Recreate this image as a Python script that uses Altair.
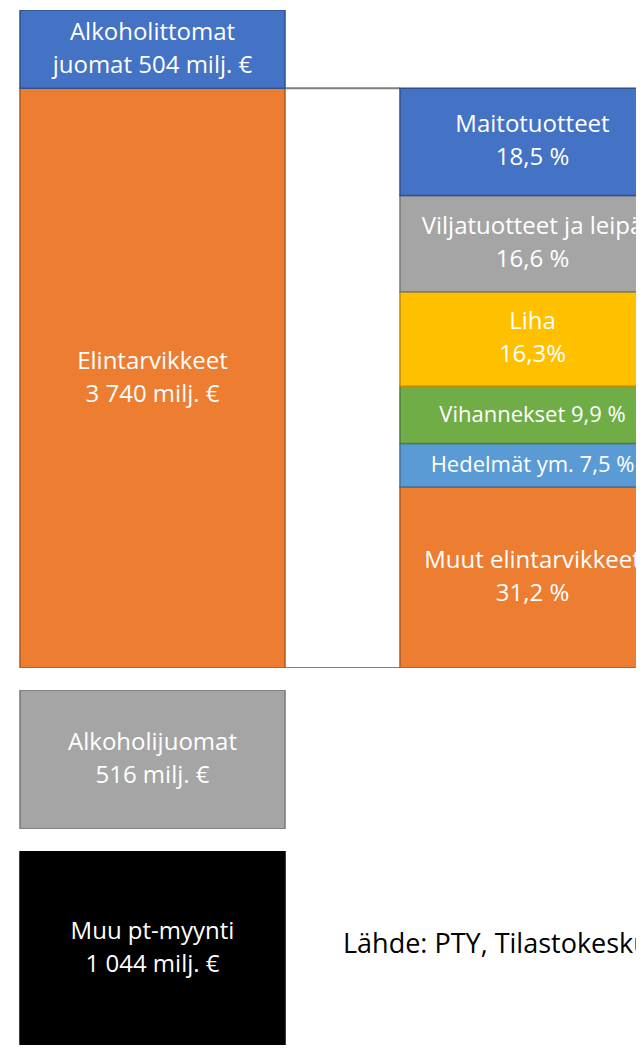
import altair as alt
import pandas as pd

# ---- data ----
col_names = ["Päivittäistavaramyynti", "Elintarvikkeiden jakauma"]

# left stacked column (bottom -> top)
stack_names = ["Elintarvikkeet", "Alkoholittomat juomat"]
stack_values = [3740, 504]
stack_labels = ["Elintarvikkeet\n3 740 milj. €", "Alkoholittomat\njuomat 504 milj. €"]

# separate boxes
alko_names = ["Alkoholijuomat"]
alko_values = [516]
alko_labels = ["Alkoholijuomat\n516 milj. €"]

muu_names = ["Muu pt-myynti"]
muu_values = [1044]
muu_labels = ["Muu pt-myynti\n1 044 milj. €"]

# breakdown of Elintarvikkeet (top -> bottom)
food_names = ["Maitotuotteet", "Viljatuotteet ja leipä", "Liha", "Vihannekset",
              "Hedelmät ym.", "Muut elintarvikkeet"]
food_shares = [18.5, 16.6, 16.3, 9.9, 7.5, 31.2]
food_labels = ["Maitotuotteet\n18,5 %", "Viljatuotteet ja leipä\n16,6 %", "Liha\n16,3%",
               "Vihannekset\n9,9 %", "Hedelmät ym.\n7,5 %", "Muut elintarvikkeet\n31,2 %"]

source_text = "Lähde: PTY, Tilastokeskus"

# ---- styles ----
fills = {
    "Alkoholittomat juomat": "#4472C4", "Elintarvikkeet": "#ED7D31",
    "Alkoholijuomat": "#A5A5A5", "Muu pt-myynti": "#000000",
    "Maitotuotteet": "#4472C4", "Viljatuotteet ja leipä": "#A5A5A5", "Liha": "#FFC000",
    "Vihannekset": "#70AD47", "Hedelmät ym.": "#5B9BD5", "Muut elintarvikkeet": "#ED7D31",
}
strokes = {
    "Alkoholittomat juomat": "#2F528F", "Elintarvikkeet": "#AE5A21",
    "Alkoholijuomat": "#787878", "Muu pt-myynti": "#000000",
    "Maitotuotteet": "#2F528F", "Viljatuotteet ja leipä": "#787878", "Liha": "#BC8C00",
    "Vihannekset": "#507E32", "Hedelmät ym.": "#41719C", "Muut elintarvikkeet": "#AE5A21",
}
# boxes too thin for the standard two-line label get a one-line, smaller label
single_line = {"Vihannekset", "Hedelmät ym."}
font_size = {"Vihannekset": 22, "Hedelmät ym.": 22}
all_names = list(fills.keys())
FONT = "Open Sans"
FS = 24
LH = 33
W = 628

xscale = alt.Scale(domain=col_names, range=[12, 657], paddingInner=0.3026, paddingOuter=0)
fill_enc = alt.Color("name:N", scale=alt.Scale(domain=all_names, range=[fills[n] for n in all_names]), legend=None)
stroke_enc = alt.Stroke("name:N", scale=alt.Scale(domain=all_names, range=[strokes[n] for n in all_names]), legend=None)

# ---- tables ----
rows = []
base = 0
for n, v, l in zip(stack_names, stack_values, stack_labels):
    rows.append(dict(col=col_names[0], name=n, y0=base, y1=base + v, mid=base + v / 2, label=l))
    base += v
total_top = base
food_total = stack_values[0]
base = 0
for n, s, l in reversed(list(zip(food_names, food_shares, food_labels))):
    v = s / 100 * food_total
    if n in single_line:
        l = l.replace("\n", " ")
    rows.append(dict(col=col_names[1], name=n, y0=base, y1=base + v, mid=base + v / 2, label=l))
    base += v
df1 = pd.DataFrame(rows)

df_rules = pd.DataFrame({"a": [col_names[0]] * 2, "b": [col_names[1]] * 2,
                         "y": [0, stack_values[0]]})


def boxes(df, ymax):
    ysc = alt.Scale(domain=[0, ymax], nice=False, zero=True)
    b = alt.Chart(df).mark_bar(strokeWidth=1.5, clip=True).encode(
        x=alt.X("col:N", scale=xscale, axis=None),
        y=alt.Y("y0:Q", scale=ysc, axis=None),
        y2="y1:Q",
        color=fill_enc,
        stroke=stroke_enc,
    )
    layers = [b]
    df = df.assign(
        nl=df["label"].str.count("\n") + 1,
        fs=df["name"].map(lambda n: font_size.get(n, FS)),
    )
    for (nl, fs), sub in df.groupby(["nl", "fs"]):
        layers.append(alt.Chart(sub).mark_text(
            font=FONT, fontSize=int(fs), color="white", lineHeight=LH, lineBreak="\n",
            align="center", baseline="middle", dy=-(int(nl) - 1) * LH / 2,
            clip=True).encode(
            x=alt.X("col:N", scale=xscale, axis=None, bandPosition=0.5),
            y=alt.Y("mid:Q", scale=ysc, axis=None),
            text="label:N",
        ))
    return layers


ysc1 = alt.Scale(domain=[0, total_top], nice=False, zero=True)
rules = alt.Chart(df_rules).mark_rule(color="#7F7F7F", strokeWidth=2, clip=True).encode(
    x=alt.X("a:N", scale=xscale, axis=None, bandPosition=1),
    x2=alt.X2("b:N", bandPosition=0),
    y=alt.Y("y:Q", scale=ysc1, axis=None),
)
panel1 = alt.layer(rules, *boxes(df1, total_top)).properties(width=W, height=658)

df2 = pd.DataFrame(dict(col=col_names[0], name=alko_names, y0=0, y1=alko_values,
                        mid=[v / 2 for v in alko_values], label=alko_labels))
panel2 = alt.layer(*boxes(df2, alko_values[0])).properties(width=W, height=139)

df3 = pd.DataFrame(dict(col=col_names[0], name=muu_names, y0=0, y1=muu_values,
                        mid=[v / 2 for v in muu_values], label=muu_labels))
src = alt.Chart(pd.DataFrame({"t": [source_text]})).mark_text(
    font=FONT, fontSize=27, color="black", align="left", baseline="middle", clip=True
).encode(x=alt.value(335), y=alt.value(94), text="t:N")
panel3 = alt.layer(*boxes(df3, muu_values[0]), src).properties(width=W, height=194)

chart = alt.vconcat(panel1, panel2, panel3, spacing=22, bounds="flush").properties(
    padding={"top": 2, "left": 0, "right": 0, "bottom": 0}
).configure(background="white", view=alt.ViewConfig(strokeWidth=0))

chart.save("out.html", embed_options={"renderer": "svg", "actions": False})
